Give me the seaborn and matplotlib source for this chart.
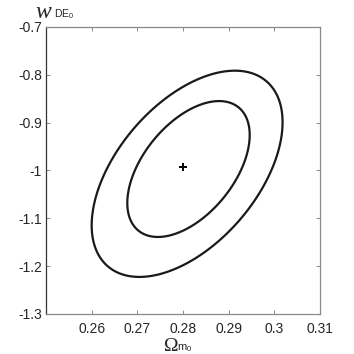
import numpy as np
import matplotlib
matplotlib.use("Agg")
import matplotlib.pyplot as plt
import seaborn as sns
from matplotlib.ticker import FuncFormatter

sns.set_style("ticks")
plt.rcParams['font.family'] = ['Liberation Sans', 'DejaVu Sans']
plt.rcParams['axes.unicode_minus'] = False
plt.rcParams['mathtext.fontset'] = 'custom'
plt.rcParams['mathtext.rm'] = 'Liberation Serif'
plt.rcParams['mathtext.it'] = 'Liberation Serif:italic'
plt.rcParams['mathtext.sf'] = 'Liberation Sans'

# best-fit point
best_om = [0.280]
best_w = [-0.993]

# confidence contours (inner, outer)
ell_center_om = [0.2812, 0.2809]
ell_center_w = [-0.997, -1.007]
half_width_om = [0.01340, 0.02090]   # half extent along Omega_m0
half_width_w = [0.1420, 0.2155]      # half extent along w_DE0
corr = 0.50

x_ticks = [0.26, 0.27, 0.28, 0.29, 0.30, 0.31]
y_ticks = [-1.3, -1.2, -1.1, -1.0, -0.9, -0.8, -0.7]

fig = plt.figure(figsize=(3.54, 3.54), dpi=100)
ax = fig.add_axes([0.130, 0.113, 0.774, 0.811])

om = np.linspace(0.25, 0.31, 500)
w = np.linspace(-1.3, -0.7, 500)
OM, W = np.meshgrid(om, w)
for cx, cy, a, b in zip(ell_center_om, ell_center_w, half_width_om, half_width_w):
    u = (OM - cx) / a
    v = (W - cy) / b
    chi = (u**2 - 2 * corr * u * v + v**2) / (1 - corr**2)
    ax.contour(OM, W, chi, levels=[1.0], colors='#1a1a1a', linewidths=1.6)

sns.scatterplot(x=best_om, y=best_w, marker='+', s=28, color='black',
                linewidth=1.4, ax=ax, legend=False)

ax.set_xlim(0.25, 0.31)
ax.set_ylim(-1.3, -0.7)
ax.set_xticks(x_ticks)
ax.set_yticks(y_ticks)
fmt = FuncFormatter(lambda v, p: '%g' % round(v, 3))
ax.xaxis.set_major_formatter(fmt)
ax.yaxis.set_major_formatter(fmt)
ax.tick_params(direction='in', length=3, width=0.6, labelsize=10,
               top=True, right=True, color='#777777')
ax.tick_params(axis='x', pad=5.5)
ax.tick_params(axis='y', pad=3)
for s in ['top', 'right', 'bottom']:
    ax.spines[s].set_color('#888888')
    ax.spines[s].set_linewidth(0.9)
ax.spines['left'].set_color('#333333')
ax.spines['left'].set_linewidth(0.9)
ax.set_xlabel('')
ax.set_ylabel('')

# axis labels
fig.text(35 / 354, 1 - 17.5 / 354, r'$w$', fontsize=17, va='baseline')
fig.text(54 / 354, 1 - 17.5 / 354, r'$\mathsf{DE}_{\mathsf{0}}$', fontsize=7.5, va='baseline')
fig.text(163 / 354, 1 - 351 / 354, r'$\mathrm{\Omega}$', fontsize=14, va='baseline')
fig.text(177 / 354, 1 - 351 / 354, r'$\mathsf{m}_{\mathsf{0}}$', fontsize=8, va='baseline')

fig.savefig('out.png', dpi=100)
